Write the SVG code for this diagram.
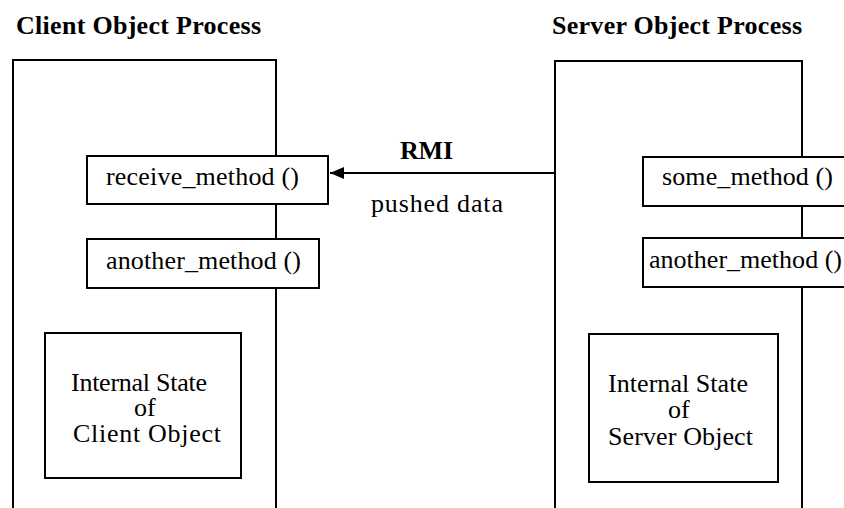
<svg xmlns="http://www.w3.org/2000/svg" width="844" height="508" viewBox="0 0 844 508">
<defs>
<style>
.t{font-family:"Liberation Serif","Times New Roman",serif;font-size:26px;fill:#000}
.b{font-family:"Liberation Serif","Times New Roman",serif;font-size:26px;font-weight:bold;fill:#000}
.box{fill:#fff;stroke:#000;stroke-width:2}
.proc{fill:none;stroke:#000;stroke-width:2}
.conn{stroke:#000;stroke-width:2;fill:none}
</style>
<marker id="arr" markerWidth="16" markerHeight="12" refX="14" refY="6" orient="auto" markerUnits="userSpaceOnUse">
<path d="M0,0 L14,6 L0,12 Z" fill="#000"/>
</marker>
</defs>
<rect width="844" height="508" fill="#fff"/>
<g id="client-process">
<text class="b" x="16" y="34" textLength="245" lengthAdjust="spacing">Client Object Process</text>
<path class="proc" d="M13,508 V60 H276 V508"/>
</g>
<g id="server-process">
<text class="b" x="552" y="34" textLength="250" lengthAdjust="spacing">Server Object Process</text>
<path class="proc" d="M555,508 V61 H802 V508"/>
</g>
<g id="connectors">
<line class="conn" x1="555" y1="173" x2="330" y2="173" marker-end="url(#arr)"/>
<text class="b" x="400" y="159" textLength="53" lengthAdjust="spacing">RMI</text>
<text class="t" x="371" y="212" textLength="132" lengthAdjust="spacing">pushed data</text>
</g>
<g id="receive-method">
<rect class="box" x="87" y="156" width="241" height="48"/>
<text class="t" x="106" y="185" textLength="193" lengthAdjust="spacing">receive_method ()</text>
</g>
<g id="client-another-method">
<rect class="box" x="87" y="239" width="232" height="49"/>
<text class="t" x="106" y="269" textLength="195" lengthAdjust="spacing">another_method ()</text>
</g>
<g id="client-state">
<rect class="box" x="45" y="333" width="196" height="145"/>
<text class="t" x="71" y="391" textLength="136" lengthAdjust="spacing">Internal State</text>
<text class="t" x="134" y="416">of</text>
<text class="t" x="73" y="442" textLength="148" lengthAdjust="spacing">Client Object</text>
</g>
<g id="some-method">
<rect class="box" x="643" y="157" width="210" height="49"/>
<text class="t" x="662" y="185" textLength="171" lengthAdjust="spacing">some_method ()</text>
</g>
<g id="server-another-method">
<rect class="box" x="643" y="238" width="210" height="49"/>
<text class="t" x="649" y="268" textLength="193" lengthAdjust="spacing">another_method ()</text>
</g>
<g id="server-state">
<rect class="box" x="589" y="334" width="189" height="148"/>
<text class="t" x="608" y="392" textLength="140" lengthAdjust="spacing">Internal State</text>
<text class="t" x="668" y="418">of</text>
<text class="t" x="608" y="445" textLength="145" lengthAdjust="spacing">Server Object</text>
</g>
</svg>
